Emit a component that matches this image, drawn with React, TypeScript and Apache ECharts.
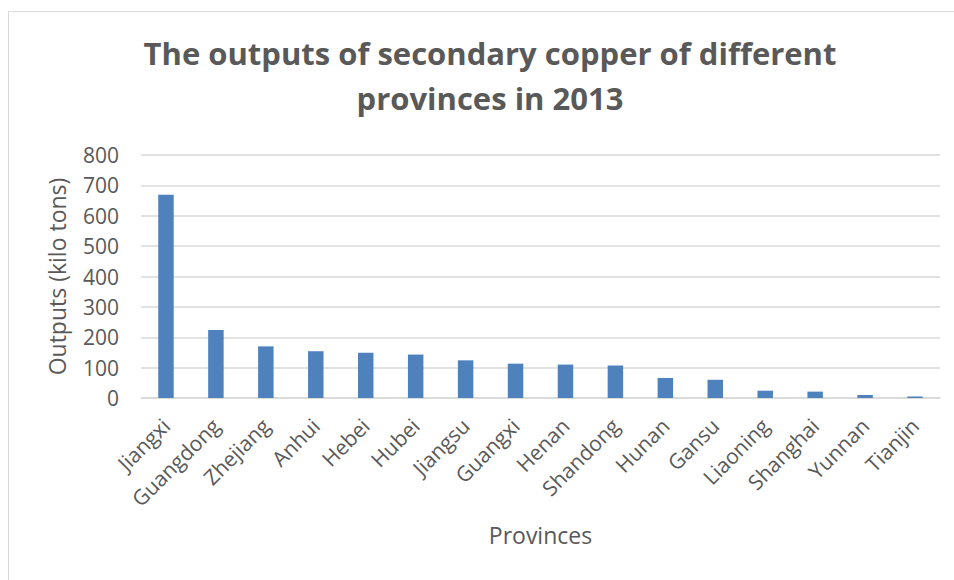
import React, { useEffect, useRef } from "react";
import * as echarts from "echarts";

const provinces = [
  "Jiangxi", "Guangdong", "Zhejiang", "Anhui", "Hebei", "Hubei", "Jiangsu", "Guangxi",
  "Henan", "Shandong", "Hunan", "Gansu", "Liaoning", "Shanghai", "Yunnan", "Tianjin",
];
const outputs = [669, 224, 170, 154, 149, 143, 124, 113, 110, 107, 66, 60, 24, 21, 10, 5];
const yTicks = { min: 0, max: 800, interval: 100 };

const FONT = "'Open Sans', 'Noto Sans', sans-serif";
const TEXT = "#595959";

export default function App() {
  const ref = useRef<HTMLDivElement>(null);
  useEffect(() => {
    if (!ref.current) return;
    const chart = echarts.init(ref.current, undefined, { renderer: "svg" });
    chart.setOption({
      animation: false,
      backgroundColor: "#ffffff",
      textStyle: { fontFamily: FONT },
      title: {
        text: "The outputs of secondary copper of different\nprovinces in 2013",
        left: 485,
        textAlign: "center",
        top: 25,
        textStyle: {
          fontFamily: FONT,
          fontSize: 31,
          fontWeight: "bold",
          color: TEXT,
          lineHeight: 45,
        },
      },
      graphic: [
        {
          type: "rect",
          shape: { x: 8.5, y: 11.5, width: 960, height: 600 },
          style: { fill: "none", stroke: "#d9d9d9", lineWidth: 1 },
          silent: true,
        },
      ],
      grid: { left: 141, right: 14, top: 155, bottom: 182, containLabel: false },
      xAxis: {
        type: "category",
        data: provinces,
        name: "Provinces",
        nameLocation: "middle",
        nameGap: 125,
        nameTextStyle: { fontFamily: FONT, fontSize: 23, color: TEXT },
        axisLine: { show: true, lineStyle: { color: "#d9d9d9", width: 1.5 } },
        axisTick: { show: false },
        axisLabel: {
          rotate: 45,
          interval: 0,
          fontFamily: FONT,
          fontSize: 21,
          color: TEXT,
          margin: 24,
        },
      },
      yAxis: {
        type: "value",
        min: yTicks.min,
        max: yTicks.max,
        interval: yTicks.interval,
        name: "Outputs (kilo tons)",
        nameLocation: "middle",
        nameGap: 73,
        nameTextStyle: { fontFamily: FONT, fontSize: 23, color: TEXT },
        axisLine: { show: false },
        axisTick: { show: false },
        axisLabel: { fontFamily: FONT, fontSize: 21, color: TEXT, margin: 22 },
        splitLine: { lineStyle: { color: "#d9d9d9", width: 1.5 } },
      },
      series: [
        {
          type: "bar",
          data: outputs,
          barWidth: "31%",
          itemStyle: { color: "#4f81bd" },
        },
      ],
    });
    return () => chart.dispose();
  }, []);
  return (
    <div
      ref={ref}
      style={{ position: "absolute", left: 0, top: 0, width: 954, height: 580 }}
    />
  );
}
